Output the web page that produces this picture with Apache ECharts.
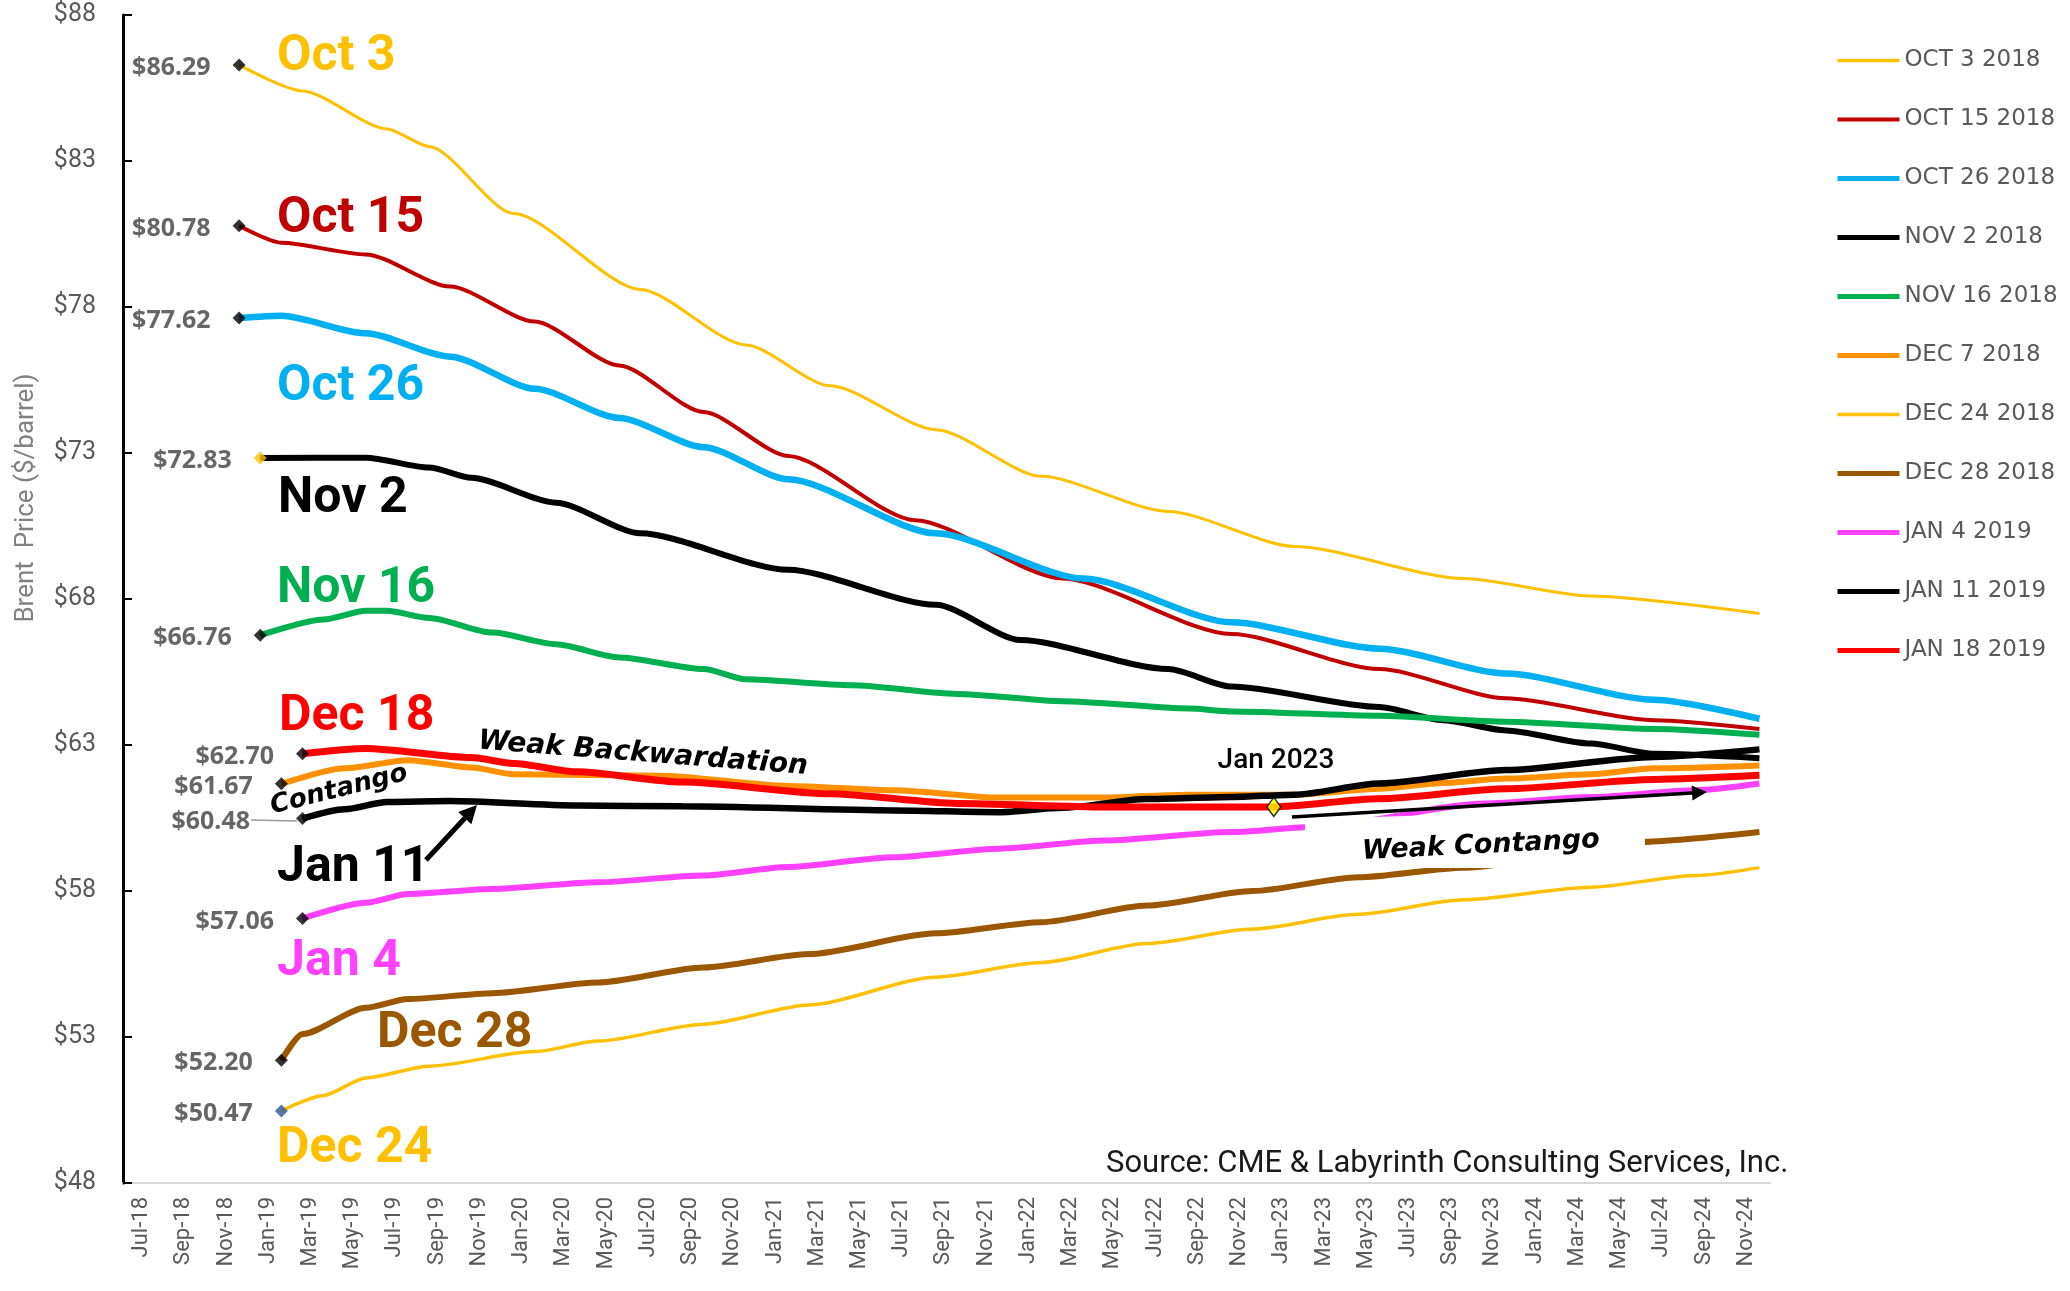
<!DOCTYPE html>
<html>
<head>
<meta charset="utf-8">
<script src="https://cdn.jsdelivr.net/npm/echarts@6/dist/echarts.min.js"></script>
<style>
html, body { margin: 0; padding: 0; background: #fff; }
#brentCurves { width: 2070px; height: 1291px; }
</style>
</head>
<body>
<div id="brentCurves"></div>
<script>
// contract months on the x axis
var months = [
    'Jul-18', 'Aug-18', 'Sep-18', 'Oct-18', 'Nov-18', 'Dec-18',
    'Jan-19', 'Feb-19', 'Mar-19', 'Apr-19', 'May-19', 'Jun-19', 'Jul-19', 'Aug-19', 'Sep-19', 'Oct-19', 'Nov-19', 'Dec-19',
    'Jan-20', 'Feb-20', 'Mar-20', 'Apr-20', 'May-20', 'Jun-20', 'Jul-20', 'Aug-20', 'Sep-20', 'Oct-20', 'Nov-20', 'Dec-20',
    'Jan-21', 'Feb-21', 'Mar-21', 'Apr-21', 'May-21', 'Jun-21', 'Jul-21', 'Aug-21', 'Sep-21', 'Oct-21', 'Nov-21', 'Dec-21',
    'Jan-22', 'Feb-22', 'Mar-22', 'Apr-22', 'May-22', 'Jun-22', 'Jul-22', 'Aug-22', 'Sep-22', 'Oct-22', 'Nov-22', 'Dec-22',
    'Jan-23', 'Feb-23', 'Mar-23', 'Apr-23', 'May-23', 'Jun-23', 'Jul-23', 'Aug-23', 'Sep-23', 'Oct-23', 'Nov-23', 'Dec-23',
    'Jan-24', 'Feb-24', 'Mar-24', 'Apr-24', 'May-24', 'Jun-24', 'Jul-24', 'Aug-24', 'Sep-24', 'Oct-24', 'Nov-24', 'Dec-24'
]

// Brent forward curves, $/barrel
var oct3 = [['Dec-18', 86.29], ['Mar-19', 85.4], ['Jul-19', 84.1], ['Sep-19', 83.5], ['Jan-20', 81.2], ['Jul-20', 78.6],
    ['Dec-20', 76.7], ['Apr-21', 75.3], ['Sep-21', 73.8], ['Feb-22', 72.2], ['Aug-22', 71.0], ['Feb-23', 69.8],
    ['Oct-23', 68.7], ['Apr-24', 68.1], ['Dec-24', 67.5]]
var oct15 = [['Dec-18', 80.78], ['Feb-19', 80.2], ['Jun-19', 79.8], ['Oct-19', 78.7], ['Feb-20', 77.5], ['Jun-20', 76.0],
    ['Oct-20', 74.4], ['Feb-21', 72.9], ['Aug-21', 70.7], ['Mar-22', 68.7], ['Nov-22', 66.8], ['Jun-23', 65.6],
    ['Dec-23', 64.6], ['Jul-24', 63.85], ['Dec-24', 63.55]]
var oct26 = [['Dec-18', 77.62], ['Feb-19', 77.7], ['Jun-19', 77.1], ['Oct-19', 76.3], ['Feb-20', 75.2], ['Jun-20', 74.2],
    ['Oct-20', 73.2], ['Feb-21', 72.1], ['Sep-21', 70.25], ['Apr-22', 68.7], ['Nov-22', 67.2], ['Jun-23', 66.3],
    ['Dec-23', 65.45], ['Jul-24', 64.55], ['Dec-24', 63.9]]
var nov2 = [['Jan-19', 72.83], ['Jun-19', 72.84], ['Sep-19', 72.5], ['Nov-19', 72.15], ['Mar-20', 71.3], ['Jul-20', 70.25],
    ['Feb-21', 69.0], ['Sep-21', 67.8], ['Jan-22', 66.6], ['Aug-22', 65.6], ['Nov-22', 65.0], ['Jun-23', 64.3],
    ['Sep-23', 63.85], ['Dec-23', 63.5], ['Apr-24', 63.05], ['Jul-24', 62.7], ['Dec-24', 62.55]]
var nov16 = [['Jan-19', 66.76], ['Apr-19', 67.3], ['Jun-19', 67.6], ['Jul-19', 67.6], ['Sep-19', 67.35], ['Dec-19', 66.85],
    ['Mar-20', 66.45], ['Jun-20', 66.0], ['Oct-20', 65.6], ['Dec-20', 65.25], ['May-21', 65.05], ['Oct-21', 64.75],
    ['Mar-22', 64.5], ['Sep-22', 64.25], ['Nov-22', 64.15], ['Jun-23', 64.0], ['Dec-23', 63.8], ['Jul-24', 63.55], ['Dec-24', 63.35]]
var dec7 = [['Feb-19', 61.67], ['May-19', 62.2], ['Aug-19', 62.48], ['Nov-19', 62.23], ['Jan-20', 62.0], ['Aug-20', 61.95],
    ['Feb-21', 61.6], ['Jul-21', 61.45], ['Dec-21', 61.2], ['May-22', 61.2], ['Sep-22', 61.3], ['Feb-23', 61.3],
    ['Jun-23', 61.5], ['Sep-23', 61.7], ['Dec-23', 61.85], ['Apr-24', 62.0], ['Jul-24', 62.2], ['Dec-24', 62.3]]
var dec24 = [['Feb-19', 50.47], ['Apr-19', 51.0], ['Jun-19', 51.6], ['Sep-19', 52.0], ['Feb-20', 52.5], ['May-20', 52.86],
    ['Oct-20', 53.44], ['Mar-21', 54.1], ['Sep-21', 55.05], ['Feb-22', 55.55], ['Jul-22', 56.2], ['Dec-22', 56.7],
    ['May-23', 57.2], ['Oct-23', 57.7], ['Apr-24', 58.13], ['Sep-24', 58.53], ['Dec-24', 58.8]]
var dec28 = [['Feb-19', 52.2], ['Mar-19', 53.1], ['Jun-19', 54.0], ['Aug-19', 54.3], ['Dec-19', 54.5], ['May-20', 54.87],
    ['Oct-20', 55.38], ['Mar-21', 55.84], ['Sep-21', 56.55], ['Feb-22', 56.93], ['Jul-22', 57.5], ['Dec-22', 58.0],
    ['May-23', 58.47], ['Oct-23', 58.8], ['Jun-24', 59.67], ['Dec-24', 60.02]]
var jan4 = [['Mar-19', 57.06], ['Jun-19', 57.6], ['Aug-19', 57.9], ['Dec-19', 58.07], ['May-20', 58.3], ['Oct-20', 58.53],
    ['Feb-21', 58.82], ['Jul-21', 59.16], ['Dec-21', 59.45], ['May-22', 59.73], ['Nov-22', 60.02], ['Mar-23', 60.2],
    ['Nov-23', 61.0], ['Apr-24', 61.22], ['Sep-24', 61.45], ['Dec-24', 61.68]]
var jan11 = [['Mar-19', 60.48], ['May-19', 60.8], ['Jul-19', 61.05], ['Oct-19', 61.08], ['Apr-20', 60.93], ['Sep-20', 60.9],
    ['Jul-21', 60.76], ['Dec-21', 60.7], ['Mar-22', 60.85], ['Jul-22', 61.15], ['Nov-22', 61.22], ['Feb-23', 61.3],
    ['Jun-23', 61.68], ['Dec-23', 62.14], ['Jul-24', 62.59], ['Dec-24', 62.85]]
var jan18 = [['Mar-19', 62.70], ['Jun-19', 62.88], ['Nov-19', 62.57], ['Jan-20', 62.37], ['Apr-20', 62.08], ['Sep-20', 61.73],
    ['Apr-21', 61.33], ['Oct-21', 61.0], ['May-22', 60.88], ['Nov-22', 60.88], ['Jan-23', 60.88], ['Jun-23', 61.16],
    ['Dec-23', 61.5], ['Jul-24', 61.82], ['Dec-24', 61.96]]

var curveNames = ['OCT 3 2018', 'OCT 15 2018', 'OCT 26 2018', 'NOV 2 2018', 'NOV 16 2018', 'DEC 7 2018',
    'DEC 24 2018', 'DEC 28 2018', 'JAN 4 2019', 'JAN 11 2019', 'JAN 18 2019']
var curveData = [oct3, oct15, oct26, nov2, nov16, dec7, dec24, dec28, jan4, jan11, jan18]
var curveColors = ['#FFC000', '#C00000', '#00B0F0', '#000000', '#00B050', '#FF9000',
    '#FFC000', '#9B5700', '#FF40FF', '#000000', '#FF0000']
var curveWidths = [3, 4, 6.5, 6, 6, 6, 3.5, 6, 6, 6.5, 7]
var legendWidths = [3.5, 4, 5, 5, 5, 5, 3.5, 5, 5, 5, 5]
// start-of-curve diamond colours (Nov 2 is gold, Dec 24 is navy in the original)
var startColors = ['#000', '#000', '#000', '#FFC000', '#000', '#000', '#2F5597', '#000', '#000', '#000', '#000']

// big date tags written next to the curves
var curveTags = [
    { text: 'Oct 3', color: '#FFC000', x: 277, y: 57 },
    { text: 'Oct 15', color: '#C00000', x: 277, y: 219 },
    { text: 'Oct 26', color: '#00B0F0', x: 277, y: 387 },
    { text: 'Nov 2', color: '#000000', x: 278, y: 499 },
    { text: 'Nov 16', color: '#00B050', x: 277, y: 589 },
    { text: 'Dec 18', color: '#FF0000', x: 279, y: 717 },
    { text: 'Jan 11', color: '#000000', x: 277, y: 868 },
    { text: 'Jan 4', color: '#FF40FF', x: 277, y: 962 },
    { text: 'Dec 28', color: '#9B5700', x: 377, y: 1034 },
    { text: 'Dec 24', color: '#FFC000', x: 277, y: 1149 }
]

function arrow(x1, y1, x2, y2, w, head) {
    var dx = x2 - x1, dy = y2 - y1
    var len = Math.sqrt(dx * dx + dy * dy)
    var ux = dx / len, uy = dy / len
    var bx = x2 - ux * head, by = y2 - uy * head
    var half = head * 0.5
    return [
        { type: 'line', z: 60, shape: { x1: x1, y1: y1, x2: bx, y2: by }, style: { stroke: '#000', lineWidth: w } },
        {
            type: 'polygon', z: 60,
            shape: { points: [[x2, y2], [bx - uy * half, by + ux * half], [bx + uy * half, by - ux * half]] },
            style: { fill: '#000' }
        }
    ]
}

var chart = echarts.init(document.getElementById('brentCurves'))

var lineSeries = curveNames.map(function (name, k) {
    return {
        name: name,
        type: 'line',
        data: curveData[k],
        symbol: 'none',
        smooth: 0.25,
        smoothMonotone: 'x',
        lineStyle: { color: curveColors[k], width: curveWidths[k] },
        itemStyle: { color: curveColors[k] },
        silent: true
    }
})

var legendItems = curveNames.map(function (name, k) {
    return { name: name, lineStyle: { width: legendWidths[k], color: curveColors[k] } }
})

var startPoints = curveData.map(function (d, k) {
    return {
        value: d[0],
        itemStyle: { color: startColors[k] },
        label: { offset: d === jan11 ? [-24, 3] : [0, 3] }
    }
})

var jan2023 = jan18.filter(function (p) { return p[0] === 'Jan-23' })

var graphics = [
    {
        type: 'text', z: 60, x: 26, y: 498, rotation: Math.PI / 2,
        style: { text: 'Brent  Price ($/barrel)', fill: '#808080', font: '26px Roboto', align: 'center', verticalAlign: 'middle' }
    },
    {
        type: 'text', z: 60, x: 1106, y: 1164,
        style: { text: 'Source: CME & Labyrinth Consulting Services, Inc.', fill: '#1a1a1a', font: '31px Roboto', verticalAlign: 'middle' }
    },
    {
        type: 'text', z: 60, x: 643, y: 754, rotation: -0.077,
        style: { text: 'Weak Backwardation', fill: '#000', font: 'italic bold 28px "DejaVu Sans"', align: 'center', verticalAlign: 'middle' }
    },
    {
        type: 'text', z: 60, x: 339, y: 790, rotation: 0.245,
        style: { text: 'Contango', fill: '#000', font: 'italic bold 26px "DejaVu Sans"', align: 'center', verticalAlign: 'middle' }
    },
    {
        type: 'polygon', z: 50,
        shape: { points: [[1305, 819], [1645, 809], [1645, 868], [1305, 868]] },
        style: { fill: '#fff' }
    },
    {
        type: 'text', z: 60, x: 1481, y: 846, rotation: 0.05,
        style: { text: 'Weak Contango', fill: '#000', font: 'italic bold 27px "DejaVu Sans"', align: 'center', verticalAlign: 'middle' }
    },
    {
        type: 'text', z: 60, x: 1276, y: 761,
        style: { text: 'Jan 2023', fill: '#000', font: '500 28px Roboto', align: 'center', verticalAlign: 'middle' }
    },
    {
        type: 'line', z: 60, shape: { x1: 251, y1: 820, x2: 297, y2: 821 },
        style: { stroke: '#999', lineWidth: 1.5 }
    }
].concat(arrow(426, 860, 477, 805, 5, 18), arrow(1292, 817, 1707, 792, 3.5, 15))

curveTags.forEach(function (t) {
    graphics.push({
        type: 'text', z: 60, x: t.x, y: t.y,
        style: { text: t.text, fill: t.color, font: 'bold 50px Roboto', verticalAlign: 'middle' }
    })
})

var option = {
    animation: false,
    backgroundColor: '#fff',
    grid: { left: 123, right: 300, top: 15, bottom: 108 },
    legend: {
        data: legendItems,
        orient: 'vertical',
        left: 1830,
        top: 44,
        itemWidth: 62,
        itemHeight: 14,
        itemGap: 36,
        selectedMode: false,
        itemStyle: { opacity: 0 },
        textStyle: { color: '#595959', fontFamily: 'DejaVu Sans', fontSize: 23, lineHeight: 23 }
    },
    xAxis: {
        type: 'category',
        data: months,
        boundaryGap: true,
        axisLine: { lineStyle: { color: '#D9D9D9', width: 2 } },
        axisTick: { show: false },
        axisLabel: {
            interval: 1,
            rotate: 90,
            color: '#595959',
            fontFamily: 'Roboto',
            fontSize: 22,
            margin: 14,
            verticalAlign: 'top',
            lineHeight: 16
        }
    },
    yAxis: {
        type: 'value',
        min: 48,
        max: 88,
        interval: 5,
        axisLine: { show: true, lineStyle: { color: '#000', width: 3 } },
        axisTick: { show: true, inside: true, length: 9, lineStyle: { color: '#000', width: 2 } },
        axisLabel: { formatter: '${value}', color: '#595959', fontFamily: 'Roboto', fontSize: 25, margin: 27 },
        splitLine: { show: false }
    },
    series: lineSeries.concat([
        {
            type: 'scatter',
            data: startPoints,
            symbol: 'diamond',
            symbolSize: 13,
            z: 5,
            silent: true,
            label: {
                show: true,
                position: 'left',
                distance: 22,
                color: '#404040',
                fontFamily: 'Noto Sans',
                fontWeight: 'bold',
                fontSize: 25,
                formatter: function (p) {
                    return '$' + p.value[1].toFixed(2)
                }
            }
        },
        {
            type: 'scatter',
            data: jan2023,
            symbol: 'diamond',
            symbolSize: [14, 19],
            z: 6,
            silent: true,
            itemStyle: { color: '#FFFF00', borderColor: '#000', borderWidth: 1.5 }
        }
    ]),
    graphic: graphics
}

chart.setOption(option)
</script>
</body>
</html>
